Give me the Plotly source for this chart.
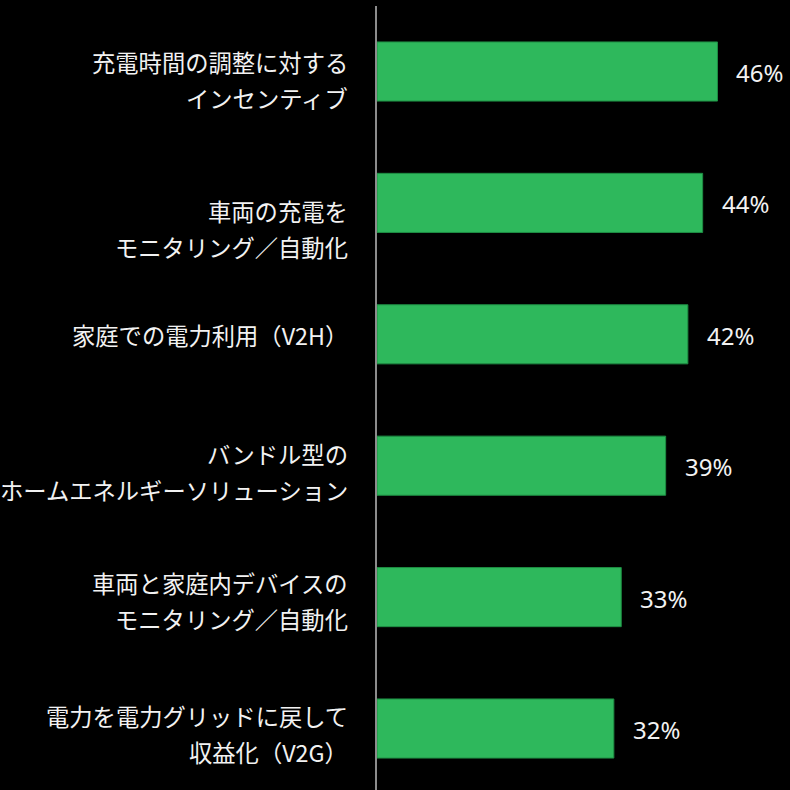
import plotly.graph_objects as go

# Survey results: share of respondents interested in each EV-related service
categories = [
    "充電時間の調整に対する<br>インセンティブ",
    "車両の充電を<br>モニタリング／自動化",
    "家庭での電力利用（V2H）",
    "バンドル型の<br>ホームエネルギーソリューション",
    "車両と家庭内デバイスの<br>モニタリング／自動化",
    "電力を電力グリッドに戻して<br>収益化（V2G）",
]
values = [46, 44, 42, 39, 33, 32]

# small vertical nudges (px) for each category label block
label_nudge = [8, 26, 1, 6, 4, 5]

BAR_COLOR = "#2EB85C"
BAR_EDGE = "#1E8C43"
TEXT_COLOR = "#F2F2F2"
JP_FONT = "Noto Sans CJK JP"

fig = go.Figure(
    go.Bar(
        x=values,
        y=list(range(len(categories))),
        orientation="h",
        width=0.45,
        marker=dict(color=BAR_COLOR, line=dict(color=BAR_EDGE, width=1)),
        hoverinfo="skip",
    )
)

annotations = []
line_gap = 36
for i, (cat, val) in enumerate(zip(categories, values)):
    lines = cat.split("<br>")
    n = len(lines)
    for j, line in enumerate(lines):
        offset = (j - (n - 1) / 2) * line_gap + label_nudge[i]
        annotations.append(
            dict(
                x=0, y=i, xref="x", yref="y",
                text=line, showarrow=False,
                xanchor="right", yanchor="middle",
                xshift=-27, yshift=-offset,
                font=dict(family=JP_FONT, size=23.3, color=TEXT_COLOR),
            )
        )
    annotations.append(
        dict(
            x=val, y=i, xref="x", yref="y",
            text=f"{val}%", showarrow=False,
            xanchor="left", yanchor="middle",
            xshift=17, yshift=-1,
            font=dict(family="Noto Sans", size=24, color=TEXT_COLOR),
        )
    )

fig.update_layout(
    width=790,
    height=790,
    margin=dict(l=377, r=0, t=6, b=0),
    paper_bgcolor="#000000",
    plot_bgcolor="#000000",
    showlegend=False,
    annotations=annotations,
    xaxis=dict(
        range=[0, 55.8],
        showgrid=False, zeroline=False, showticklabels=False,
        showline=False, fixedrange=True,
    ),
    yaxis=dict(
        range=[5.468, -0.4985],
        showgrid=False, zeroline=False, showticklabels=False,
        showline=True, linecolor="#8C8C8C", linewidth=1.5,
        fixedrange=True,
    ),
)

fig.write_html("out.html", config={"displayModeBar": False})
